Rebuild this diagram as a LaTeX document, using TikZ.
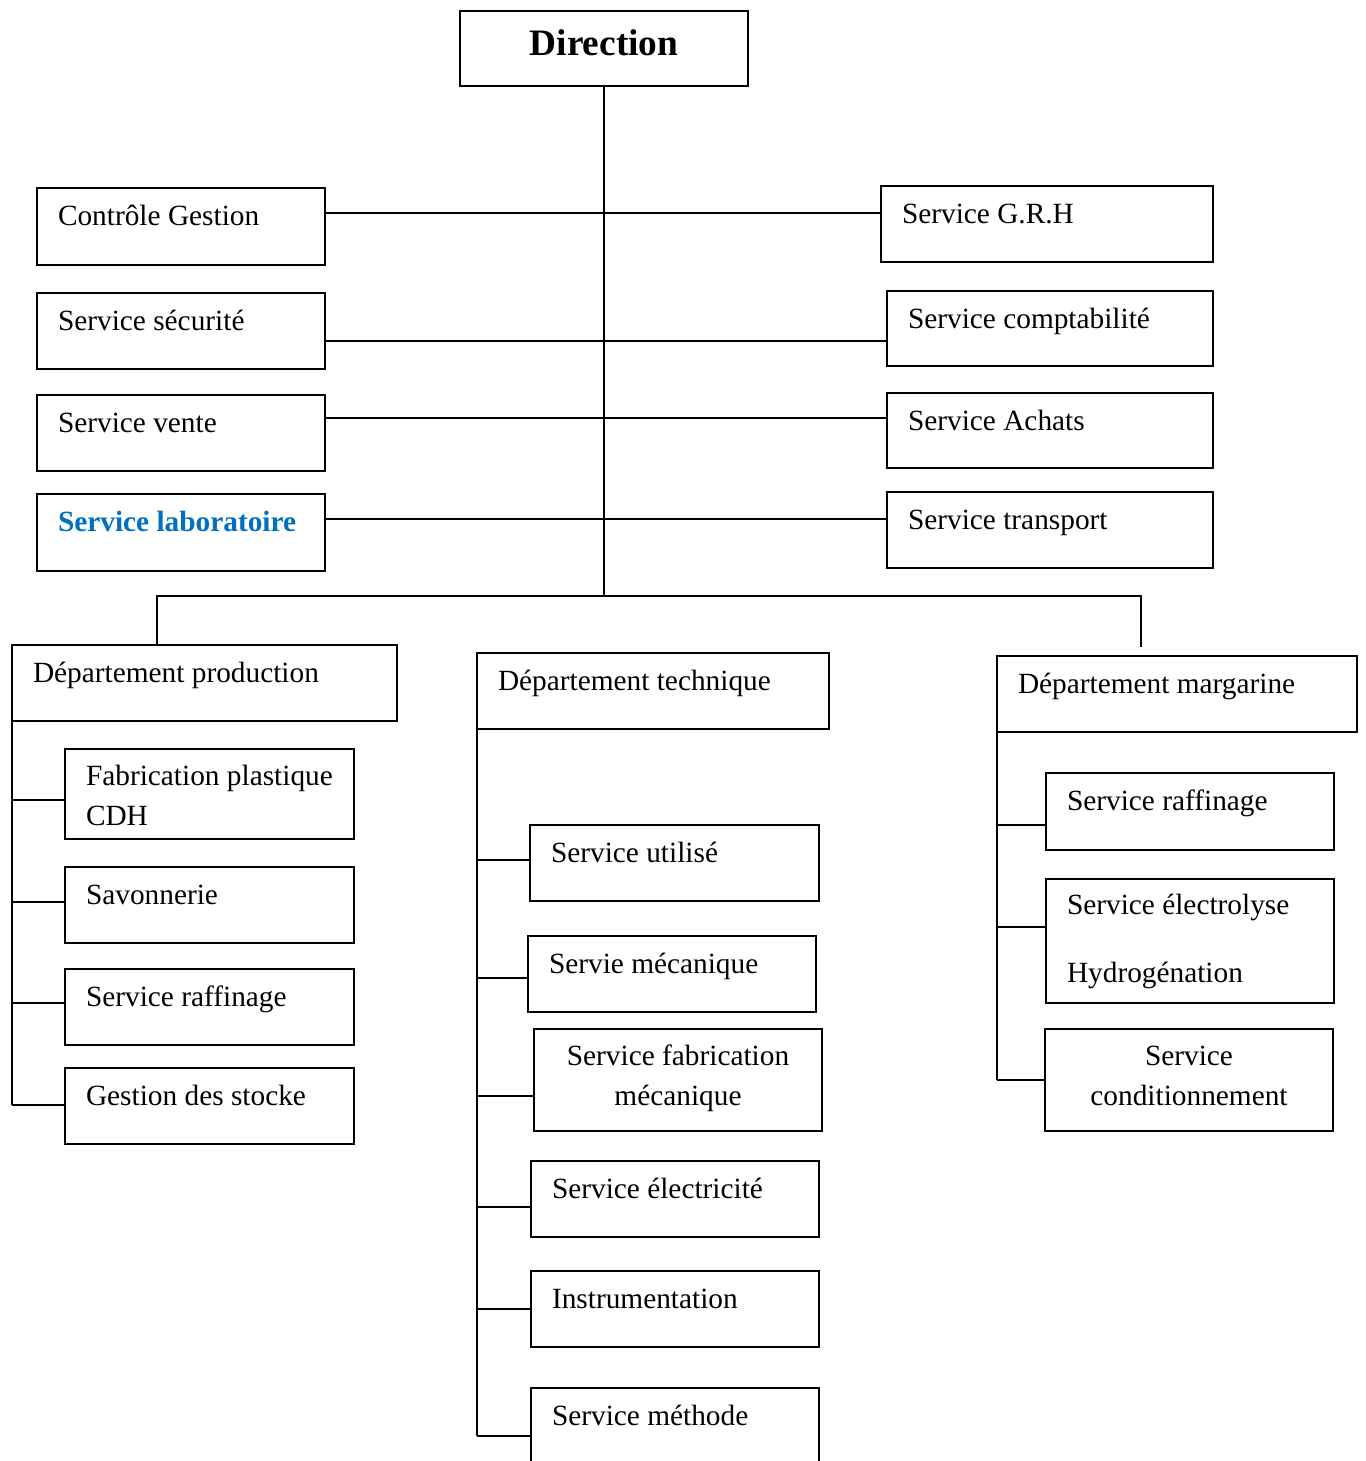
\documentclass[tikz,border=0pt]{standalone}
\usepackage{fontspec}
\setmainfont{Liberation Serif}
\usetikzlibrary{calc}
\definecolor{labblue}{HTML}{0070C0}
\newcommand\mkbox[5]{\node[box, minimum width={(#4-#2)*0.75pt}, minimum height={(#5-#3)*0.75pt}] (#1) at (#2,#3) {};}
\begin{document}
\begin{tikzpicture}[x=0.75pt, y=-0.75pt, line width=1.5pt,
  font=\fontsize{22pt}{30pt}\selectfont,
  box/.style={draw, rectangle, anchor=north west, inner sep=0pt, outer sep=0pt, line width=1.5pt},
  lbl/.style={anchor=base west, inner sep=0pt, outer sep=0pt},
  lblc/.style={anchor=base, inner sep=0pt, outer sep=0pt},
  conn/.style={line width=1.5pt}]
\useasboundingbox (0,0) rectangle (1365,1461);
\clip (0,0) rectangle (1365,1461);
% boxes
\mkbox{dir}{460}{11}{748}{86}
\mkbox{cg}{37}{188}{325}{265}
\mkbox{sec}{37}{293}{325}{369}
\mkbox{vente}{37}{395}{325}{471}
\mkbox{lab}{37}{494}{325}{571}
\mkbox{grh}{881}{186}{1213}{262}
\mkbox{compta}{887}{291}{1213}{366}
\mkbox{achats}{887}{393}{1213}{468}
\mkbox{transp}{887}{492}{1213}{568}
\mkbox{prod}{12}{645}{397}{721}
\mkbox{fab}{65}{749}{354}{839}
\mkbox{sav}{65}{867}{354}{943}
\mkbox{raffP}{65}{969}{354}{1045}
\mkbox{gs}{65}{1068}{354}{1144}
\mkbox{tech}{477}{653}{829}{729}
\mkbox{util}{530}{825}{819}{901}
\mkbox{meca}{528}{936}{816}{1012}
\mkbox{fabm}{534}{1029}{822}{1131}
\mkbox{elec}{531}{1161}{819}{1237}
\mkbox{instr}{531}{1271}{819}{1347}
\mkbox{meth}{531}{1388}{819}{1466}
\mkbox{marg}{997}{656}{1357}{732}
\mkbox{raffM}{1046}{773}{1334}{850}
\mkbox{elect}{1046}{879}{1334}{1003}
\mkbox{cond}{1045}{1029}{1333}{1131}
% texts
\node[anchor=base, inner sep=0pt, font=\fontsize{28pt}{32pt}\selectfont\bfseries] (tdir) at (604,55) {Direction};
\node[lbl] (tcg) at ($(cg.north west)+(21,37)$) {Contrôle Gestion};
\node[lbl] (tsec) at ($(sec.north west)+(21,37)$) {Service sécurité};
\node[lbl] (tvente) at ($(vente.north west)+(21,37)$) {Service vente};
\node[lbl, text=labblue, font=\fontsize{22pt}{30pt}\selectfont\bfseries] (tlab) at ($(lab.north west)+(21,37)$) {Service laboratoire};
\node[lbl] (tgrh) at ($(grh.north west)+(21,37)$) {Service G.R.H};
\node[lbl] (tcompta) at ($(compta.north west)+(21,37)$) {Service comptabilité};
\node[lbl] (tachats) at ($(achats.north west)+(21,37)$) {Service Achats};
\node[lbl] (ttransp) at ($(transp.north west)+(21,37)$) {Service transport};
\node[lbl] (tprod) at ($(prod.north west)+(21,37)$) {Département production};
\node[lbl] (tfab) at ($(fab.north west)+(21,36)$) {\begin{tabular}[t]{@{}l@{}}Fabrication plastique\\CDH\end{tabular}};
\node[lbl] (tsav) at ($(sav.north west)+(21,37)$) {Savonnerie};
\node[lbl] (traffP) at ($(raffP.north west)+(21,37)$) {Service raffinage};
\node[lbl] (tgs) at ($(gs.north west)+(21,37)$) {Gestion des stocke};
\node[lbl] (ttech) at ($(tech.north west)+(21,37)$) {Département technique};
\node[lbl] (tutil) at ($(util.north west)+(21,37)$) {Service utilisé};
\node[lbl] (tmeca) at ($(meca.north west)+(21,37)$) {Servie mécanique};
\node[lblc] (tfabm) at (678,1065) {\begin{tabular}[t]{@{}c@{}}Service fabrication\\mécanique\end{tabular}};
\node[lbl] (telec) at ($(elec.north west)+(21,37)$) {Service électricité};
\node[lbl] (tinstr) at ($(instr.north west)+(21,37)$) {Instrumentation};
\node[lbl] (tmeth) at ($(meth.north west)+(21,37)$) {Service méthode};
\node[lbl] (tmarg) at ($(marg.north west)+(21,37)$) {Département margarine};
\node[lbl] (traffM) at ($(raffM.north west)+(21,37)$) {Service raffinage};
\node[lbl] (telect) at ($(elect.north west)+(21,35)$) {\begin{tabular}[t]{@{}l@{}}Service électrolyse\\[21pt]Hydrogénation\end{tabular}};
\node[lblc] (tcond) at (1189,1065) {\begin{tabular}[t]{@{}c@{}}Service\\conditionnement\end{tabular}};
% trunk and rows
\coordinate (r1) at (605,213);
\coordinate (r2) at (605,341);
\coordinate (r3) at (605,418);
\coordinate (r4) at (605,519);
\coordinate (bus) at (605,596);
\coordinate (busL) at (157,596);
\coordinate (busR) at (1141,596);
\coordinate (dropR) at (1141,647);
\draw[conn] (dir.south) -- (dir.south |- bus);
\draw[conn] (cg.east |- r1) -- (grh.west |- r1);
\draw[conn] (sec.east |- r2) -- (compta.west |- r2);
\draw[conn] (vente.east |- r3) -- (achats.west |- r3);
\draw[conn] (lab.east |- r4) -- (transp.west |- r4);
\draw[conn] (busL |- prod.north) -- (busL) -- (busR) -- (dropR);
% production branch
\coordinate (fabS) at ($(fab.north west)+(0,51)$);
\coordinate (savS) at ($(sav.north west)+(0,35)$);
\coordinate (raffPS) at ($(raffP.north west)+(0,34)$);
\coordinate (gsS) at ($(gs.north west)+(0,37)$);
\draw[conn] (prod.south west) -- (prod.south west |- gsS);
\draw[conn] (prod.south west |- fabS) -- (fabS);
\draw[conn] (prod.south west |- savS) -- (savS);
\draw[conn] (prod.south west |- raffPS) -- (raffPS);
\draw[conn] (prod.south west |- gsS) -- (gsS);
% technique branch
\coordinate (utilS) at ($(util.north west)+(0,35)$);
\coordinate (mecaS) at ($(meca.north west)+(0,42)$);
\coordinate (fabmS) at ($(fabm.north west)+(0,67)$);
\coordinate (elecS) at ($(elec.north west)+(0,46)$);
\coordinate (instrS) at ($(instr.north west)+(0,38)$);
\coordinate (methS) at ($(meth.north west)+(0,48)$);
\draw[conn] (tech.south west) -- (tech.south west |- methS);
\draw[conn] (tech.south west |- utilS) -- (utilS);
\draw[conn] (tech.south west |- mecaS) -- (mecaS);
\draw[conn] (tech.south west |- fabmS) -- (fabmS);
\draw[conn] (tech.south west |- elecS) -- (elecS);
\draw[conn] (tech.south west |- instrS) -- (instrS);
\draw[conn] (tech.south west |- methS) -- (methS);
% margarine branch
\coordinate (raffMS) at ($(raffM.north west)+(0,52)$);
\coordinate (electS) at ($(elect.north west)+(0,48)$);
\coordinate (condS) at ($(cond.north west)+(0,51)$);
\draw[conn] (marg.south west) -- (marg.south west |- condS);
\draw[conn] (marg.south west |- raffMS) -- (raffMS);
\draw[conn] (marg.south west |- electS) -- (electS);
\draw[conn] (marg.south west |- condS) -- (condS);
\end{tikzpicture}
\end{document}
